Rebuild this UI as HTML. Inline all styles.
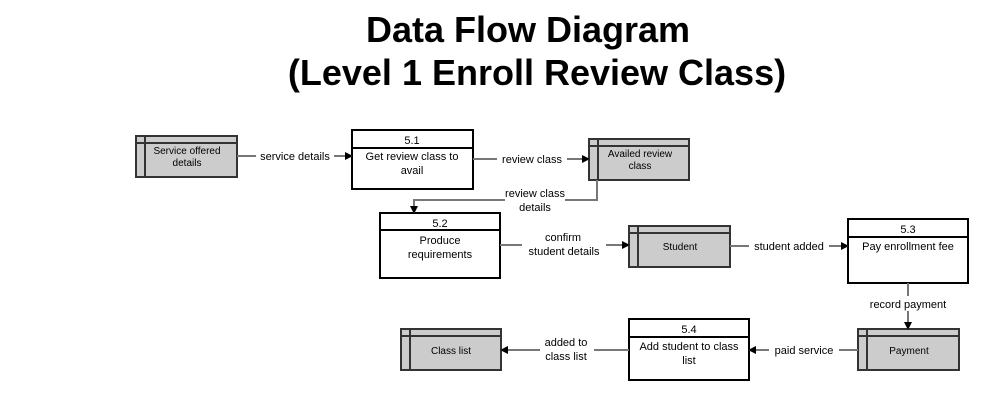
<!DOCTYPE html>
<html><head><meta charset="utf-8"><style>
body{margin:0;background:#fff;width:990px;height:400px;overflow:hidden}
</style></head><body>
<svg width="990" height="400" xmlns="http://www.w3.org/2000/svg" font-family="Liberation Sans, Arial, sans-serif">
<text x="528" y="42" font-size="36" font-weight="bold" text-anchor="middle">Data Flow Diagram</text>
<text x="537" y="85" font-size="36" font-weight="bold" text-anchor="middle">(Level 1 Enroll Review Class)</text>
<defs><marker id="a" markerWidth="8" markerHeight="8" refX="7" refY="4" orient="auto" markerUnits="userSpaceOnUse"><path d="M0,0 L8,4 L0,8z" fill="#000"/></marker></defs>
<g stroke="#333" stroke-width="2" fill="#ccc">
<rect x="136" y="136" width="101" height="41"/><path d="M136 143H237M145 136V177" fill="none"/>
<rect x="589" y="139" width="100" height="41"/><path d="M589 146H689M598 139V180" fill="none"/>
<rect x="629" y="226" width="101" height="41"/><path d="M629 233H730M638 226V267" fill="none"/>
<rect x="858" y="329" width="101" height="41"/><path d="M858 336H959M867 329V370" fill="none"/>
<rect x="401" y="329" width="100" height="41"/><path d="M401 336H501M410 329V370" fill="none"/>
</g>
<g stroke="#000" stroke-width="2" fill="#fff">
<rect x="352" y="130" width="121" height="59"/><path d="M352 148H473"/>
<rect x="380" y="213" width="120" height="65"/><path d="M380 230H500"/>
<rect x="848" y="219" width="120" height="64"/><path d="M848 237H968"/>
<rect x="629" y="319" width="120" height="61"/><path d="M629 337H749"/>
</g>
<g stroke="#777" stroke-width="2" fill="none" marker-end="url(#a)">
<path d="M237 156H352"/>
<path d="M473 159H589"/>
<path d="M597 180V200H414V213"/>
<path d="M500 245H629"/>
<path d="M730 246H848"/>
<path d="M908 283V329"/>
<path d="M858 350H749"/>
<path d="M629 350H501"/>
</g>
<g font-size="11" text-anchor="middle" fill="#000">
<g fill="#fff" stroke="none">
<rect x="256" y="148" width="78" height="15"/><rect x="497" y="151" width="70" height="15"/>
<rect x="505" y="186" width="60" height="28"/><rect x="522" y="230" width="84" height="28"/>
<rect x="749" y="239" width="80" height="15"/><rect x="864" y="296" width="90" height="15"/>
<rect x="769" y="342" width="70" height="15"/><rect x="540" y="335" width="54" height="28"/>
</g>
<text x="295" y="160">service details</text>
<text x="532" y="163">review class</text>
<text x="535" y="197">review class</text><text x="535" y="211">details</text>
<text x="563" y="241">confirm</text><text x="564" y="255">student details</text>
<text x="789" y="250">student added</text>
<text x="908" y="308">record payment</text>
<text x="804" y="354">paid service</text>
<text x="566" y="346">added to</text><text x="566" y="360">class list</text>
<text x="412" y="144">5.1</text><text x="412" y="160">Get review class to</text><text x="412" y="174">avail</text>
<text x="440" y="227">5.2</text><text x="440" y="244">Produce</text><text x="440" y="258">requirements</text>
<text x="908" y="233">5.3</text><text x="908" y="250">Pay enrollment fee</text>
<text x="689" y="333">5.4</text><text x="689" y="350">Add student to class</text><text x="689" y="364">list</text>
</g>
<g font-size="10" text-anchor="middle">
<text x="187" y="154">Service offered</text><text x="187" y="166">details</text>
<text x="640" y="157">Availed review</text><text x="640" y="169">class</text>
<text x="680" y="250">Student</text>
<text x="909" y="354">Payment</text>
<text x="451" y="354">Class list</text>
</g>
</svg>
</body></html>
